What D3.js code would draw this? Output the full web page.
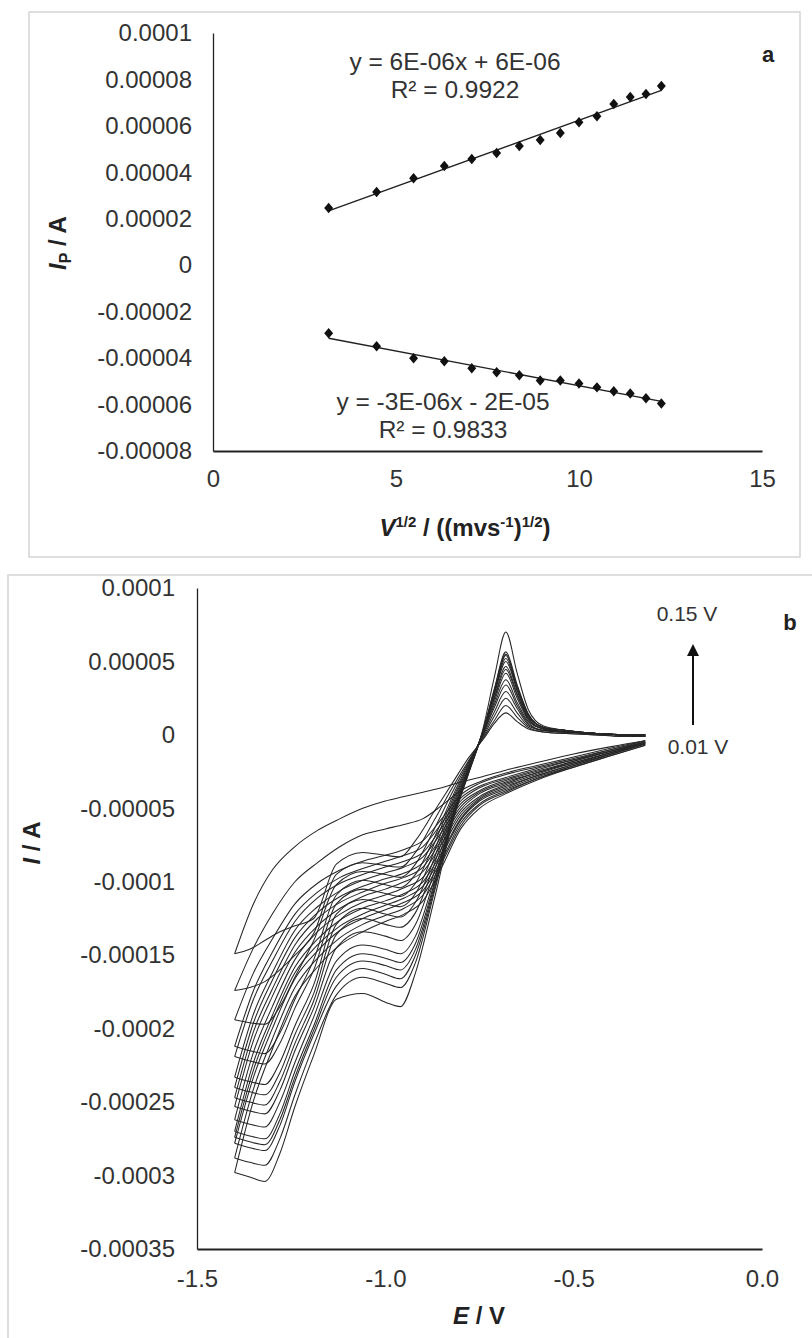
<!DOCTYPE html>
<html><head><meta charset="utf-8">
<script src="https://cdn.jsdelivr.net/npm/d3@7"></script>
<style>
body{margin:0;background:#fff;}
svg{display:block;font-family:"Liberation Sans",Arial,sans-serif;}
</style></head>
<body>
<svg id="c" width="812" height="1338"></svg>
<script>
// ---------- Panel a data ----------
const sqrtScanRate = [3.16, 4.47, 5.48, 6.32, 7.07, 7.75, 8.37, 8.94, 9.49, 10.0, 10.49, 10.95, 11.40, 11.83, 12.25];
const anodicIp = [2.46e-5, 3.15e-5, 3.75e-5, 4.27e-5, 4.57e-5, 4.83e-5, 5.13e-5, 5.39e-5, 5.69e-5, 6.16e-5, 6.42e-5, 6.94e-5, 7.24e-5, 7.37e-5, 7.72e-5];
const cathodicIp = [-2.93e-5, -3.49e-5, -4.01e-5, -4.14e-5, -4.44e-5, -4.61e-5, -4.74e-5, -4.96e-5, -4.96e-5, -5.09e-5, -5.26e-5, -5.43e-5, -5.52e-5, -5.73e-5, -5.95e-5];
const aYTicks = [0.0001, 0.00008, 0.00006, 0.00004, 0.00002, 0, -0.00002, -0.00004, -0.00006, -0.00008];
const aYTickLabels = ["0.0001","0.00008","0.00006","0.00004","0.00002","0","-0.00002","-0.00004","-0.00006","-0.00008"];
const aXTicks = [0, 5, 10, 15];
const aXTickLabels = ["0","5","10","15"];
const eqUpper = ["y = 6E-06x + 6E-06", "R\u00B2 = 0.9922"];
const eqLower = ["y = -3E-06x - 2E-05", "R\u00B2 = 0.9833"];

// ---------- Panel b data (currents in µA) ----------
const forwardE = [-0.31, -0.40, -0.50, -0.60, -0.68, -0.75, -0.80, -0.85, -0.90, -0.95, -1.00, -1.06, -1.12, -1.18, -1.24, -1.30, -1.35, -1.40];
const forwardI = [
 [-4, -8, -13, -19, -24, -29, -32, -36, -39, -42, -45, -50, -57, -65, -76, -92, -115, -149],
 [-4, -9, -15, -21, -26, -32, -38, -48, -57, -61, -64, -68, -76, -87, -100, -122, -145, -174],
 [-4, -10, -16, -22, -27, -33, -41, -57, -72, -78, -82, -86, -92, -101, -115, -139, -162, -194],
 [-5, -10, -17, -23, -29, -35, -43, -60, -76, -82, -86, -91, -97, -107, -122, -148, -174, -212],
 [-5, -11, -17, -24, -30, -36, -45, -63, -80, -86, -90, -95, -101, -111, -127, -154, -180, -219],
 [-5, -11, -18, -25, -31, -38, -47, -66, -83, -90, -94, -99, -106, -117, -133, -162, -190, -233],
 [-5, -11, -18, -26, -32, -39, -49, -69, -87, -94, -98, -103, -110, -121, -138, -167, -196, -240],
 [-5, -12, -19, -26, -33, -40, -51, -71, -90, -97, -101, -107, -114, -125, -143, -173, -202, -247],
 [-6, -12, -19, -27, -34, -42, -53, -74, -93, -100, -105, -110, -118, -130, -148, -178, -208, -253],
 [-6, -12, -20, -28, -35, -43, -55, -77, -97, -104, -109, -114, -122, -134, -153, -185, -216, -262],
 [-6, -13, -20, -28, -36, -44, -57, -80, -100, -108, -113, -118, -126, -139, -158, -191, -223, -270],
 [-6, -13, -21, -29, -37, -45, -58, -82, -103, -111, -116, -122, -130, -143, -162, -195, -228, -274],
 [-6, -13, -21, -30, -38, -47, -60, -85, -106, -114, -119, -125, -133, -147, -166, -200, -233, -278],
 [-7, -14, -22, -30, -39, -48, -62, -87, -109, -118, -123, -129, -138, -152, -172, -207, -241, -288],
 [-7, -14, -22, -31, -40, -50, -64, -90, -113, -122, -127, -134, -143, -158, -178, -214, -249, -298]
];
const reverseE = [-1.40, -1.36, -1.32, -1.28, -1.24, -1.19, -1.13, -1.06, -1.00, -0.96, -0.92, -0.87, -0.82, -0.78, -0.74, -0.71, -0.68, -0.65, -0.62, -0.58, -0.52, -0.44, -0.37, -0.31];
const reverseI = [
 [-149, -146, -140, -134, -130, -125, -88, -80, -82, -83, -72, -52, -32, -16, -3, 8, 15, 9, 4, 2, 1, 0, -1, -1],
 [-174, -172, -168, -160, -150, -135, -95, -87, -89, -90, -80, -58, -35, -18, -2, 10, 20, 12, 5, 2, 1, 0, -1, -1],
 [-194, -196, -197, -185, -165, -140, -102, -93, -95, -97, -88, -64, -38, -19, -1, 13, 25, 15, 6, 3, 2, 1, 0, -1],
 [-212, -215, -217, -203, -180, -153, -109, -99, -102, -104, -95, -70, -41, -20, 0, 16, 29.5, 18, 7, 3, 2, 1, 0, -1],
 [-219, -222, -224, -210, -186, -160, -115, -105, -108, -110, -101, -74, -43, -21, 1, 19, 34, 20, 8, 3, 2, 1, 0, -1],
 [-233, -236, -238, -223, -198, -170, -122, -112, -115, -117, -108, -79, -45, -22, 1, 21, 37.5, 22, 9, 4, 2, 1, 0, -1],
 [-240, -243, -245, -230, -204, -176, -129, -118, -122, -124, -114, -84, -47, -23, 2, 23, 42, 25, 10, 4, 2, 1, 0, 0],
 [-247, -250, -252, -236, -210, -181, -136, -125, -129, -131, -121, -88, -49, -24, 2, 25, 44.5, 27, 11, 4, 2, 1, 0, 0],
 [-253, -256, -258, -242, -215, -186, -145, -134, -137, -140, -129, -93, -51, -24, 2, 26, 46.5, 28, 11, 4, 2, 1, 0, 0],
 [-262, -265, -267, -250, -223, -192, -154, -143, -146, -149, -137, -98, -53, -25, 3, 28, 50, 30, 12, 5, 2, 1, 0, 0],
 [-270, -273, -275, -258, -229, -198, -160, -149, -152, -155, -142, -101, -54, -25, 3, 29, 52, 31, 13, 5, 3, 1, 0, 0],
 [-274, -277, -279, -262, -233, -201, -165, -154, -157, -160, -146, -103, -55, -26, 3, 30, 54, 32, 13, 5, 3, 1, 0, 0],
 [-278, -281, -283, -266, -236, -204, -171, -159, -163, -166, -150, -105, -56, -26, 3, 31, 55, 33, 14, 5, 3, 1, 0, 0],
 [-288, -291, -293, -275, -245, -211, -177, -165, -169, -172, -155, -107, -57, -27, 3, 32, 56.5, 34, 14, 5, 3, 1, 0, 0],
 [-298, -301, -304, -285, -253, -218, -180, -176, -182, -185, -162, -112, -58, -27, 5, 40, 70, 42, 17, 6, 3, 1, 0, 0]
];
const bYTicks = [0.0001, 0.00005, 0, -0.00005, -0.0001, -0.00015, -0.0002, -0.00025, -0.0003, -0.00035];
const bYTickLabels = ["0.0001","0.00005","0","-0.00005","-0.0001","-0.00015","-0.0002","-0.00025","-0.0003","-0.00035"];
const bXTicks = [-1.5, -1.0, -0.5, 0.0];
const bXTickLabels = ["-1.5","-1.0","-0.5","0.0"];
const arrowLabels = ["0.15 V", "0.01 V"];

// ---------- drawing ----------
const svg = d3.select("#c");
const TXT = "#333";
const TICKFS = 24;

// frames
svg.append("rect").attr("x",29).attr("y",12).attr("width",771).attr("height",545)
  .attr("fill","none").attr("stroke","#d4d4d4").attr("stroke-width",1.5);
svg.append("rect").attr("x",8).attr("y",575).attr("width",820).attr("height",800)
  .attr("fill","none").attr("stroke","#d4d4d4").attr("stroke-width",1.5);

function styleAxis(g, fs){
  g.selectAll("text").attr("font-size",fs).attr("fill",TXT)
   .attr("font-family","'Liberation Sans',Arial,sans-serif");
  g.selectAll(".tick line").remove();
}

// ===== Panel a =====
const ax = d3.scaleLinear().domain([0,15]).range([213,762]);
const ay = d3.scaleLinear().domain([-0.00008,0.0001]).range([451,33]);

const aYAxis = svg.append("g").attr("transform","translate(213,0)")
  .call(d3.axisLeft(ay).tickValues(aYTicks).tickSize(0).tickPadding(21)
    .tickFormat((d,i)=>aYTickLabels[i]));
aYAxis.select(".domain").attr("stroke","#222").attr("stroke-width",1.3);
styleAxis(aYAxis, TICKFS);

const aXAxis = svg.append("g").attr("transform","translate(0,451)")
  .call(d3.axisBottom(ax).tickValues(aXTicks).tickSize(0).tickPadding(19)
    .tickFormat((d,i)=>aXTickLabels[i]));
aXAxis.select(".domain").attr("stroke","#222").attr("stroke-width",2.2);
styleAxis(aXAxis, TICKFS);

// regression trendlines
function fit(xs, ys){
  const n=xs.length, mx=d3.mean(xs), my=d3.mean(ys);
  let sxy=0,sxx=0; for(let i=0;i<n;i++){sxy+=(xs[i]-mx)*(ys[i]-my); sxx+=(xs[i]-mx)**2;}
  const m=sxy/sxx; return [m, my-m*mx];
}
[anodicIp, cathodicIp].forEach(ser=>{
  const [m,b] = fit(sqrtScanRate, ser);
  const x0 = sqrtScanRate[0], x1 = sqrtScanRate[sqrtScanRate.length-1];
  svg.append("line").attr("x1",ax(x0)).attr("y1",ay(m*x0+b))
    .attr("x2",ax(x1)).attr("y2",ay(m*x1+b))
    .attr("stroke","#222").attr("stroke-width",1.4);
  svg.append("g").selectAll("path").data(ser).join("path")
    .attr("d", d3.symbol().type(d3.symbolDiamond2).size(70))
    .attr("transform",(d,i)=>`translate(${ax(sqrtScanRate[i])},${ay(d)}) scale(0.85,1)`)
    .attr("fill","#111");
});

function eqText(lines, cx, y1, y2){
  svg.append("text").attr("x",cx).attr("y",y1).attr("text-anchor","middle")
    .attr("font-size",24.5).attr("fill",TXT).text(lines[0]);
  svg.append("text").attr("x",cx).attr("y",y2).attr("text-anchor","middle")
    .attr("font-size",24.5).attr("fill",TXT).text(lines[1]);
}
eqText(eqUpper, 455, 70, 98);
eqText(eqLower, 443, 410, 438);

svg.append("text").attr("x",768).attr("y",62).attr("text-anchor","middle")
  .attr("font-size",22).attr("font-weight","bold").attr("fill","#222").text("a");

// axis titles a
const aYT = svg.append("text").attr("transform","translate(66,243) rotate(-90)")
  .attr("text-anchor","middle").attr("font-size",24).attr("font-weight","bold").attr("fill","#222");
aYT.append("tspan").attr("font-style","italic").text("I");
aYT.append("tspan").attr("font-size",16).attr("dy",5).text("P");
aYT.append("tspan").attr("dy",-5).text(" / A");

const aXT = svg.append("text").attr("x",465).attr("y",536)
  .attr("text-anchor","middle").attr("font-size",24).attr("font-weight","bold").attr("fill","#222");
aXT.append("tspan").attr("font-style","italic").text("V");
aXT.append("tspan").attr("font-size",15).attr("dy",-9).text("1/2");
aXT.append("tspan").attr("dy",9).text(" / ((mvs");
aXT.append("tspan").attr("font-size",15).attr("dy",-9).text("-1");
aXT.append("tspan").attr("dy",9).text(")");
aXT.append("tspan").attr("font-size",15).attr("dy",-9).text("1/2");
aXT.append("tspan").attr("dy",9).text(")");

// ===== Panel b =====
const bx = d3.scaleLinear().domain([-1.5,0]).range([197,762]);
const by = d3.scaleLinear().domain([-0.00035,0.0001]).range([1249,588]);

const bYAxis = svg.append("g").attr("transform","translate(197,0)")
  .call(d3.axisLeft(by).tickValues(bYTicks).tickSize(0).tickPadding(22)
    .tickFormat((d,i)=>bYTickLabels[i]));
bYAxis.select(".domain").attr("stroke","#222").attr("stroke-width",1.3);
styleAxis(bYAxis, TICKFS);

const bXAxis = svg.append("g").attr("transform","translate(0,1249)")
  .call(d3.axisBottom(bx).tickValues(bXTicks).tickSize(0).tickPadding(21)
    .tickFormat((d,i)=>bXTickLabels[i]));
bXAxis.select(".domain").attr("stroke","#222").attr("stroke-width",2.2);
styleAxis(bXAxis, TICKFS);

const line = d3.line().x(d=>bx(d[0])).y(d=>by(d[1]*1e-6)).curve(d3.curveMonotoneX);
const cv = svg.append("g").attr("fill","none").attr("stroke","#262626").attr("stroke-width",1.05);
forwardI.forEach(arr=>{
  const pts = forwardE.map((e,i)=>[e,arr[i]]).sort((a,b)=>a[0]-b[0]);
  cv.append("path").attr("d",line(pts));
});
reverseI.forEach(arr=>{
  const pts = reverseE.map((e,i)=>[e,arr[i]]).sort((a,b)=>a[0]-b[0]);
  cv.append("path").attr("d",line(pts));
});

// arrow + labels
svg.append("defs").append("marker").attr("id","ah").attr("viewBox","0 0 10 10")
  .attr("refX",5).attr("refY",5).attr("markerWidth",6).attr("markerHeight",7).attr("orient","auto")
  .append("path").attr("d","M0,0 L10,5 L0,10 z").attr("fill","#111");
svg.append("line").attr("x1",693).attr("y1",725).attr("x2",693).attr("y2",650)
  .attr("stroke","#111").attr("stroke-width",2).attr("marker-end","url(#ah)");
svg.append("text").attr("x",687).attr("y",621).attr("text-anchor","middle")
  .attr("font-size",21).attr("fill",TXT).text(arrowLabels[0]);
svg.append("text").attr("x",698).attr("y",754).attr("text-anchor","middle")
  .attr("font-size",21).attr("fill",TXT).text(arrowLabels[1]);
svg.append("text").attr("x",790).attr("y",630).attr("text-anchor","middle")
  .attr("font-size",22).attr("font-weight","bold").attr("fill","#222").text("b");

// axis titles b
const bYT = svg.append("text").attr("transform","translate(40,843) rotate(-90)")
  .attr("text-anchor","middle").attr("font-size",24).attr("font-weight","bold").attr("fill","#222");
bYT.append("tspan").attr("font-style","italic").text("I");
bYT.append("tspan").text(" / A");

const bXT = svg.append("text").attr("x",479).attr("y",1324)
  .attr("text-anchor","middle").attr("font-size",24).attr("font-weight","bold").attr("fill","#222");
bXT.append("tspan").attr("font-style","italic").text("E");
bXT.append("tspan").text(" / V");
</script>
</body></html>
